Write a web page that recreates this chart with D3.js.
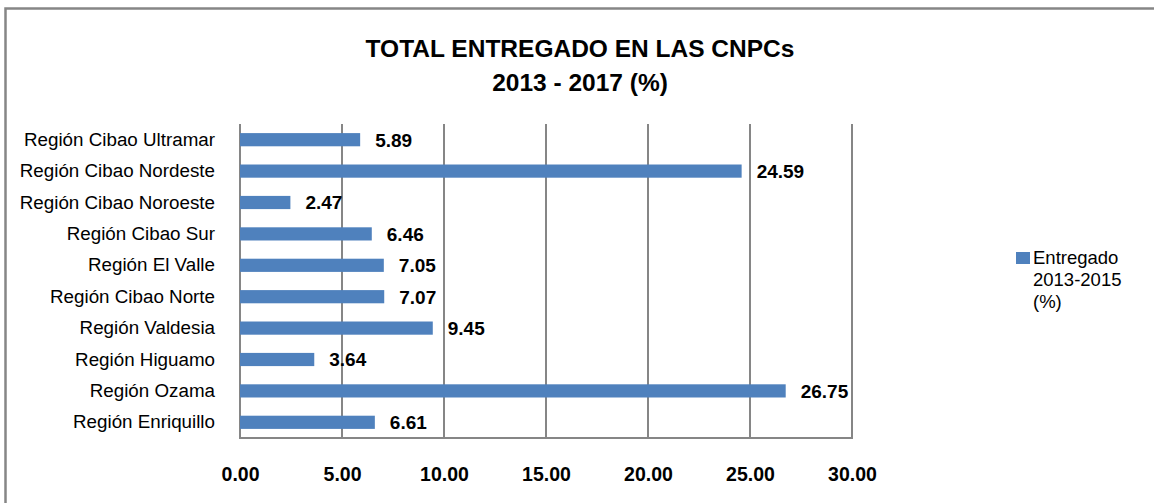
<!DOCTYPE html>
<html>
<head>
<meta charset="utf-8">
<script src="https://cdn.jsdelivr.net/npm/d3@7"></script>
<style>
  body { margin: 0; background: #fff; }
  svg text { font-family: "Liberation Sans", Arial, sans-serif; fill: #000; }
</style>
</head>
<body>
<script>
// data (top to bottom)
var regions = ["Región Cibao Ultramar", "Región Cibao Nordeste", "Región Cibao Noroeste",
  "Región Cibao Sur", "Región El Valle", "Región Cibao Norte", "Región Valdesia",
  "Región Higuamo", "Región Ozama", "Región Enriquillo"];
var entregado = [5.89, 24.59, 2.47, 6.46, 7.05, 7.07, 9.45, 3.64, 26.75, 6.61];
var xTicks = [0, 5, 10, 15, 20, 25, 30];
var titleLines = ["TOTAL ENTREGADO EN LAS CNPCs", "2013 - 2017 (%)"];
var legendLines = ["Entregado", "2013-2015", "(%)"];

var W = 1154, H = 503;
var plot = {left: 240, right: 852, top: 124, bottom: 438};
var barColor = "#4f81bd", gridColor = "#868686";

var data = regions.map(function(r, i) { return {region: r, value: entregado[i]}; });

var svg = d3.select("body").append("svg")
  .attr("width", W).attr("height", H);

// outer chart border (runs off the right and bottom edges)
svg.append("rect")
  .attr("x", 5.5).attr("y", 8.5)
  .attr("width", W + 20).attr("height", H + 20)
  .attr("fill", "none").attr("stroke", gridColor).attr("stroke-width", 2.5);

// title
svg.append("g").selectAll("text")
  .data(titleLines)
  .enter().append("text")
    .attr("x", 580)
    .attr("y", function(d, i) { return 57 + i * 34; })
    .attr("text-anchor", "middle")
    .style("font-size", "24.5px")
    .style("font-weight", "bold")
    .text(function(d) { return d; });

var x = d3.scaleLinear().domain([0, 30]).range([plot.left, plot.right]);
var y = d3.scaleBand().domain(regions)
  .range([plot.top, plot.bottom])
  .paddingInner(0.58).paddingOuter(0.29);

// vertical gridlines
svg.append("g").selectAll("line")
  .data(xTicks)
  .enter().append("line")
    .attr("x1", function(d) { return x(d); })
    .attr("x2", function(d) { return x(d); })
    .attr("y1", plot.top).attr("y2", plot.bottom)
    .attr("stroke", gridColor).attr("stroke-width", 2);

// bottom edge of plot area
svg.append("line")
  .attr("x1", plot.left - 1).attr("x2", plot.right + 1)
  .attr("y1", plot.bottom).attr("y2", plot.bottom)
  .attr("stroke", gridColor).attr("stroke-width", 2);

// x axis labels
var xAxis = svg.append("g")
  .attr("transform", "translate(0," + (plot.bottom + 43) + ")")
  .call(d3.axisBottom(x).tickValues(xTicks).tickFormat(d3.format(".2f")).tickSize(0));
xAxis.select(".domain").remove();
xAxis.selectAll("text")
  .attr("y", 0).attr("dy", 0)
  .style("font-family", "'Liberation Sans', Arial, sans-serif")
  .style("font-size", "19.5px").style("font-weight", "bold");

// y axis labels
var yAxis = svg.append("g")
  .attr("transform", "translate(" + (plot.left - 25) + ",0)")
  .call(d3.axisLeft(y).tickSize(0).tickPadding(0));
yAxis.select(".domain").remove();
yAxis.selectAll("text")
  .style("font-family", "'Liberation Sans', Arial, sans-serif")
  .style("font-size", "18.8px");

// bars
svg.append("g").selectAll("rect")
  .data(data)
  .enter().append("rect")
    .attr("x", x(0))
    .attr("y", function(d) { return y(d.region); })
    .attr("width", function(d) { return x(d.value) - x(0); })
    .attr("height", y.bandwidth())
    .attr("fill", barColor);

// value labels
svg.append("g").selectAll("text")
  .data(data)
  .enter().append("text")
    .attr("x", function(d) { return x(d.value) + 15; })
    .attr("y", function(d) { return y(d.region) + y.bandwidth() / 2; })
    .attr("dy", "0.36em")
    .style("font-size", "19px").style("font-weight", "bold")
    .text(function(d) { return d3.format(".2f")(d.value); });

// legend
var legend = svg.append("g");
legend.append("rect")
  .attr("x", 1016).attr("y", 252).attr("width", 14).attr("height", 12)
  .attr("fill", barColor);
legend.selectAll("text")
  .data(legendLines)
  .enter().append("text")
    .attr("x", 1033)
    .attr("y", function(d, i) { return 264 + i * 22; })
    .style("font-size", "18.5px")
    .text(function(d) { return d; });
</script>
</body>
</html>
